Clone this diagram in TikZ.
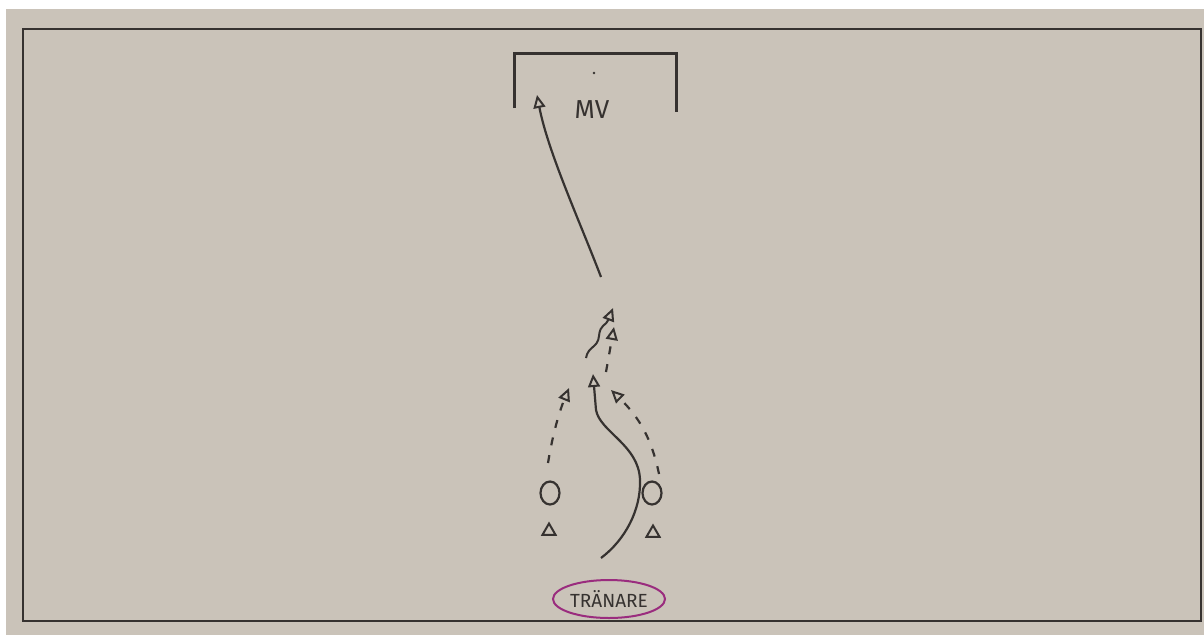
\documentclass[tikz,border=0pt]{standalone}
\usepackage{fontspec}
\setmainfont{Fira Sans}
\usetikzlibrary{arrows.meta,shapes.geometric}
\definecolor{paper}{HTML}{CAC3B9}
\definecolor{pencil}{HTML}{363230}
\definecolor{marker}{HTML}{9A2C7E}
\tikzset{
  x=1pt, y=-1pt,
  tip/.style={-{Triangle[open,length=13pt,width=12pt,fill=paper,line width=2pt]}},
  run/.style={draw=pencil, line width=2.2pt, tip},
  pass/.style={draw=pencil, line width=2.2pt, dash pattern=on 8pt off 10pt, tip},
  player/.style={draw=pencil, line width=2.2pt, ellipse, minimum width=19pt, minimum height=23pt, inner sep=0pt},
  cone/.style={draw=pencil, line width=2pt, regular polygon, regular polygon sides=3, minimum size=15pt, inner sep=0pt},
}
\begin{document}
\begin{tikzpicture}
\useasboundingbox (0,0) rectangle (1204,635);
% paper and pitch outline
\fill[white] (0,0) rectangle (1204,635);
\fill[paper] (6,9) rectangle (1204,635);
\draw[pencil, line width=1.8pt] (23,29) rectangle (1201,621);

% goal
\draw[pencil, line width=3pt] (514,108) -- (514,53) -- (676,53) -- (676,112);
\fill[pencil] (594,73) circle (1.4pt);
\node[text=pencil, font=\fontsize{26}{26}\selectfont] (mv) at (592,110) {MV};

% shot at goal
\coordinate (shotfrom) at (601,277);
\coordinate (shotto) at (537,95);
\draw[run] (shotfrom) .. controls (580,222) and (548,152) .. (shotto);

% dribble and short passes in the middle
\coordinate (dribfrom) at (586,358);
\coordinate (dribto) at (613,308);
\draw[run, line width=2pt] (dribfrom) .. controls (588,346) and (598,348) .. (599,336)
   .. controls (600,324) and (606,326) .. (dribto);
\coordinate (p1from) at (606,372);
\coordinate (p1to) at (614,327);
\draw[pass] (p1from) -- (p1to);

% players and cones
\node[player] (pl) at (550,493) {};
\node[player] (pr) at (652,493) {};
\node[cone] (cl) at (549,531) {};
\node[cone] (cr) at (653,533) {};

% coach
\node[draw=marker, line width=2pt, ellipse, minimum width=112pt, minimum height=38pt,
      inner sep=0pt] (coach) at (609,599) {};
\node[text=pencil, font=\fontsize{19}{19}\selectfont, inner sep=0pt] (coachlabel) at (coach) {TRÄNARE};

% runs from the players
\coordinate (runstart) at (601,558);
\coordinate (runto) at (593,374);
\draw[run] (runstart) .. controls (625,540) and (641,510) .. (640,480)
   .. controls (639,445) and (600,432) .. (596,410) -- (runto);
\coordinate (lpfrom) at (548,463);
\coordinate (lpto) at (569,388);
\draw[pass] (lpfrom) .. controls (553,432) and (560,410) .. (lpto);
\coordinate (rpfrom) at (659,474);
\coordinate (rpto) at (611,390);
\draw[pass] (rpfrom) .. controls (652,440) and (640,418) .. (rpto);
\end{tikzpicture}
\end{document}
